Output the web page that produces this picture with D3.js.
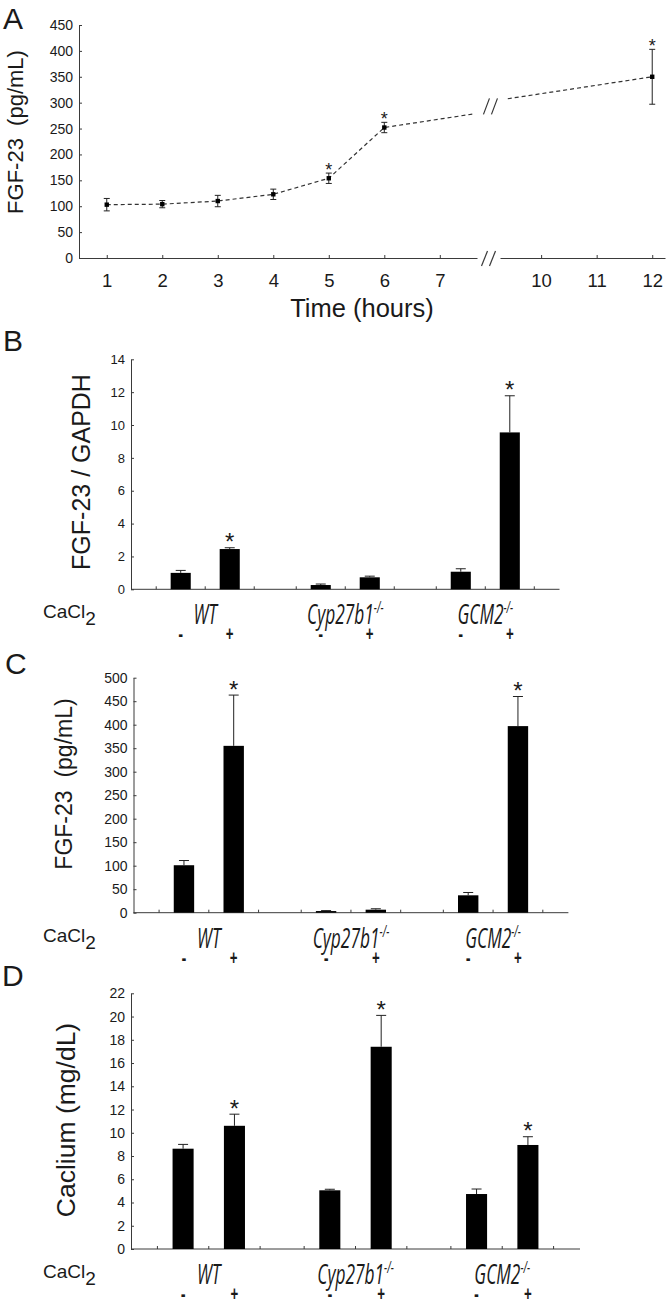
<!DOCTYPE html>
<html><head><meta charset="utf-8">
<script src="https://cdn.jsdelivr.net/npm/d3@7"></script>
<style>
body{margin:0;background:#fff}
svg{display:block}
</style>
</head><body>
<svg id="c" width="667" height="1306"></svg>
<script>
// ---------------- Panel A data ----------------
const hours = [1, 2, 3, 4, 5, 6, 12];
const fgfTime = [103, 104, 110, 123, 154, 252, 350];
const fgfTimeErr = [12, 7, 11, 10, 10, 10, 53];
const timeSig = [0, 0, 0, 0, 1, 1, 1];
const timeTicksLeft = [1, 2, 3, 4, 5, 6, 7];
const timeTicksRight = [10, 11, 12];
const fgfTimeTicks = [0, 50, 100, 150, 200, 250, 300, 350, 400, 450];
const axisBreak = [7.6, 9.4]; // hours where the broken axis cuts the line

// ---------------- Bar panels data ----------------
const genotypes = ["WT", "Cyp27b1", "GCM2"];
const genotypeSup = ["", "-/-", "-/-"];
const treatments = ["-", "+"];

// B: FGF-23 / GAPDH
const mrnaMinus = [1.0, 0.26, 1.07];
const mrnaPlus = [2.45, 0.73, 9.55];
const mrnaMinusErr = [0.15, 0.06, 0.18];
const mrnaPlusErr = [0.08, 0.07, 2.23];
const mrnaSig = [1, 0, 1];
const mrnaTicks = [0, 2, 4, 6, 8, 10, 12, 14];

// C: FGF-23 (pg/mL)
const serumMinus = [101, 3.5, 37];
const serumPlus = [355, 6.4, 397];
const serumMinusErr = [10, 1, 6];
const serumPlusErr = [108, 2, 63];
const serumSig = [1, 0, 1];
const serumTicks = [0, 50, 100, 150, 200, 250, 300, 350, 400, 450, 500];

// D: Calcium (mg/dL)
const caMinus = [8.63, 5.05, 4.73];
const caPlus = [10.6, 17.4, 8.95];
const caMinusErr = [0.37, 0.09, 0.43];
const caPlusErr = [1.0, 2.7, 0.71];
const caSig = [1, 1, 1];
const caTicks = [0, 2, 4, 6, 8, 10, 12, 14, 16, 18, 20, 22];

// ---------------- drawing ----------------
const FONT = '"Liberation Sans", Arial, sans-serif';
const COND = '"Open Sans", "Liberation Sans", sans-serif';
const INK = "#1a1a1a";
const AX = "#3a3a3a";
const svg = d3.select("#c");

function styleAxis(sel, fs) {
  sel.attr("font-family", null).attr("font-size", null);
  sel.select(".domain").attr("stroke", AX).attr("stroke-width", 1);
  sel.selectAll(".tick line").attr("stroke", AX);
  sel.selectAll(".tick text").attr("font-family", FONT).attr("font-size", fs).attr("fill", INK);
}

function text(g, x, y, str, o = {}) {
  return g.append("text").attr("x", x).attr("y", y).text(str)
    .attr("font-family", o.family || FONT).attr("font-size", o.size || 14)
    .attr("fill", INK).attr("text-anchor", o.anchor || "start")
    .attr("font-style", o.style || "normal").attr("font-weight", o.weight || "normal");
}

function ytitle(g, x, y, str, fs) {
  g.append("text").attr("transform", `translate(${x},${y}) rotate(-90)`)
    .attr("text-anchor", "middle").attr("font-family", FONT).attr("font-size", fs)
    .attr("fill", INK).text(str);
}

// ---------- Panel A ----------
(function () {
  const g = svg.append("g");
  const y = d3.scaleLinear().domain([0, 450]).range([258, 25]);
  const xL = d3.scaleLinear().domain([0.5, 7.67]).range([79, 477]);
  const xR = d3.scaleLinear().domain([9.26, 12.23]).range([500, 665]);
  const xOf = h => (h < 8.5 ? xL(h) : xR(h));

  text(g, 3, 29, "A", { size: 30 });

  g.append("g").attr("transform", "translate(79,0)")
    .call(d3.axisLeft(y).tickValues(fgfTimeTicks).tickSizeInner(-3).tickSizeOuter(0).tickPadding(6))
    .call(styleAxis, 14);
  g.append("g").attr("transform", "translate(0,258)")
    .call(d3.axisBottom(xL).tickValues(timeTicksLeft).tickFormat(d3.format("d")).tickSizeInner(-3).tickSizeOuter(0).tickPadding(16))
    .call(styleAxis, 18.5);
  g.append("g").attr("transform", "translate(0,258)")
    .call(d3.axisBottom(xR).tickValues(timeTicksRight).tickFormat(d3.format("d")).tickSizeInner(-3).tickSizeOuter(0).tickPadding(16))
    .call(styleAxis, 18.5);

  // axis break marks
  const bx = (xL.range()[1] + xR.range()[0]) / 2;
  [-4, 4].forEach(dx => g.append("line")
    .attr("x1", bx + dx - 3).attr("y1", 266).attr("x2", bx + dx + 3).attr("y2", 251)
    .attr("stroke", AX).attr("stroke-width", 1.2));

  ytitle(g, 23, 132, "FGF-23\u00a0 (pg/mL)", 22);
  text(g, 362, 317, "Time (hours)", { size: 25.5, anchor: "middle" });

  // dashed line, interrupted at the axis break
  const i6 = hours.indexOf(6), i12 = hours.indexOf(12);
  const interp = h => fgfTime[i6] + (fgfTime[i12] - fgfTime[i6]) * (h - 6) / (12 - 6);
  const leftPts = hours.slice(0, i6 + 1).map((h, i) => [h, fgfTime[i]]).concat([[axisBreak[0], interp(axisBreak[0])]]);
  const rightPts = [[axisBreak[1], interp(axisBreak[1])], [12, fgfTime[i12]]];
  const line = d3.line().x(d => xOf(d[0])).y(d => y(d[1]));
  [leftPts, rightPts].forEach(p => g.append("path").attr("d", line(p))
    .attr("fill", "none").attr("stroke", "#333").attr("stroke-width", 1.2).attr("stroke-dasharray", "4,3"));
  // break marks on the line
  const lx = (xOf(axisBreak[0]) + xOf(axisBreak[1])) / 2;
  const ly = (y(interp(axisBreak[0])) + y(interp(axisBreak[1]))) / 2;
  [-4, 4].forEach(dx => g.append("line")
    .attr("x1", lx + dx - 3).attr("y1", ly + 8).attr("x2", lx + dx + 3).attr("y2", ly - 8)
    .attr("stroke", "#333").attr("stroke-width", 1.2));

  hours.forEach((h, i) => {
    const cx = xOf(h), t = y(fgfTime[i] + fgfTimeErr[i]), b = y(fgfTime[i] - fgfTimeErr[i]);
    g.append("line").attr("x1", cx).attr("x2", cx).attr("y1", t).attr("y2", b).attr("stroke", "#222");
    [t, b].forEach(yy => g.append("line").attr("x1", cx - 3).attr("x2", cx + 3).attr("y1", yy).attr("y2", yy).attr("stroke", "#222"));
    g.append("rect").attr("x", cx - 2.2).attr("y", y(fgfTime[i]) - 2.2).attr("width", 4.4).attr("height", 4.4).attr("fill", "#000");
    if (timeSig[i]) text(g, cx, t + 3, "*", { size: 18, anchor: "middle" });
  });
})();

// ---------- Bar panels ----------
function barPanel(c, minus, plus, minusErr, plusErr, sig, ticks) {
  const g = svg.append("g");
  const y = d3.scaleLinear().domain([0, ticks[ticks.length - 1]]).range([c.bottom, c.top]);
  const xg = d3.scaleBand().domain(genotypes).range([c.x0, c.x1]).paddingInner(0.3).paddingOuter(0.18);
  const xt = d3.scalePoint().domain(treatments).range([0, xg.bandwidth()]).padding(0.5);
  const bw = xg.bandwidth() * 0.205;

  text(g, c.letterX, c.letterY, c.letter, { size: 30 });

  g.append("g").attr("transform", `translate(${c.x0},0)`)
    .call(d3.axisLeft(y).tickValues(ticks).tickSizeInner(-3).tickSizeOuter(0).tickPadding(6))
    .call(styleAxis, c.tickFs);
  g.append("line").attr("x1", c.x0).attr("x2", c.x1).attr("y1", c.bottom).attr("y2", c.bottom)
    .attr("stroke", AX);
  // small upward ticks at the edges and middle of each genotype group
  genotypes.forEach(gn => {
    [0, 0.5, 1].forEach(f => {
      const tx = xg(gn) + f * xg.bandwidth();
      g.append("line").attr("x1", tx).attr("x2", tx).attr("y1", c.bottom).attr("y2", c.bottom - 3).attr("stroke", AX);
    });
  });

  ytitle(g, c.titleX, c.titleY, c.title, c.titleFs);

  genotypes.forEach((gn, i) => {
    [[minus[i], minusErr[i], 0], [plus[i], plusErr[i], sig[i]]].forEach((v, j) => {
      const cx = xg(gn) + xt(treatments[j]);
      g.append("rect").attr("x", cx - bw / 2).attr("y", y(v[0])).attr("width", bw)
        .attr("height", c.bottom - y(v[0])).attr("fill", "#000");
      const et = y(v[0] + v[1]);
      g.append("line").attr("x1", cx).attr("x2", cx).attr("y1", y(v[0])).attr("y2", et).attr("stroke", "#222");
      g.append("line").attr("x1", cx - 5).attr("x2", cx + 5).attr("y1", et).attr("y2", et).attr("stroke", "#222");
      if (v[2]) text(g, cx, et + 2.5, "*", { size: 24, anchor: "middle" });
      // sign label under the bar
      g.append("text").attr("transform", `translate(${cx},${c.bottom + 52}) scale(0.62,1)`)
        .attr("text-anchor", "middle").attr("font-family", COND).attr("font-weight", "bold")
        .attr("font-size", 22).attr("fill", INK).text(treatments[j]);
    });
    // genotype label
    const t = g.append("text")
      .attr("transform", `translate(${xg(gn) + xg.bandwidth() / 2},${c.bottom + 35}) scale(0.62,1)`)
      .attr("text-anchor", "middle").attr("font-family", COND).attr("font-style", "italic")
      .attr("font-size", 28).attr("fill", INK);
    t.append("tspan").text(gn);
    if (genotypeSup[i]) t.append("tspan").attr("font-size", 16).attr("dy", -11).text(genotypeSup[i]);
  });

  // CaCl2 row label
  const cl = text(g, 43, c.bottom + 29, "CaCl", { size: 19 });
  cl.append("tspan").attr("dy", 7).text("2");
}

barPanel({ letter: "B", letterX: 3, letterY: 351, top: 359.3, bottom: 589.3, x0: 131, x1: 559.5,
  tickFs: 13, title: "FGF-23 / GAPDH", titleFs: 25, titleX: 90, titleY: 472 },
  mrnaMinus, mrnaPlus, mrnaMinusErr, mrnaPlusErr, mrnaSig, mrnaTicks);

barPanel({ letter: "C", letterX: 5, letterY: 674, top: 677.7, bottom: 912.7, x0: 133.5, x1: 568.4,
  tickFs: 14, title: "FGF-23\u00a0 (pg/mL)", titleFs: 23, titleX: 72, titleY: 784 },
  serumMinus, serumPlus, serumMinusErr, serumPlusErr, serumSig, serumTicks);

barPanel({ letter: "D", letterX: 2, letterY: 986, top: 993.3, bottom: 1249, x0: 131, x1: 580,
  tickFs: 14, title: "Caclium (mg/dL)", titleFs: 26.5, titleX: 75, titleY: 1120 },
  caMinus, caPlus, caMinusErr, caPlusErr, caSig, caTicks);
</script>
</body></html>
